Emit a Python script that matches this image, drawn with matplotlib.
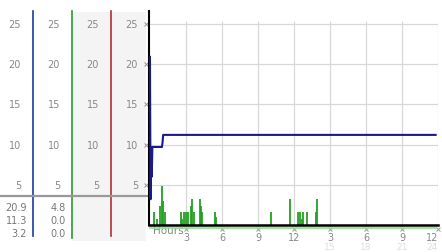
import matplotlib.pyplot as plt
import matplotlib.transforms as mtransforms

# gust line (hours since start, mph)
gust_hours = [0, 0.05, 0.1, 0.15, 0.2, 1.0, 1.05, 1.1, 23.8]
gust_mph = [20.9, 3.2, 9.7, 6.0, 9.7, 9.7, 10.3, 11.2, 11.2]

# wind spikes
wind_hours = [0.33, 0.58, 0.8, 0.97, 1.1, 1.25, 2.58, 2.7, 2.86, 3.03, 3.2, 3.4, 3.53, 3.7,
              4.17, 4.25, 4.36, 5.42, 5.5, 10.1, 11.67, 12.36, 12.5, 12.64, 12.78, 13.1,
              13.83, 13.9]
wind_mph = [1.6, 0.8, 2.4, 4.8, 3.0, 1.6, 1.6, 0.8, 1.6, 1.6, 1.6, 2.4, 3.2, 1.6,
            3.2, 2.4, 1.6, 1.6, 1.0, 1.6, 3.2, 1.6, 1.6, 0.8, 1.6, 1.6,
            1.6, 3.2]

y_ticks = [5, 10, 15, 20, 25]
x_ticks = [3, 6, 9, 12, 15, 18, 21, 24]
x_labels = ['3', '6', '9', '12', '3', '6', '9', '12']
x_labels2 = ['', '', '', '', '15', '18', '21', '24']
gust_stats = ['20.9', '11.3', '3.2']
wind_stats = ['4.8', '0.0', '0.0']

navy = '#1a1a8c'
green = '#22a022'
red = '#b03030'
grey_txt = '#888888'

W, H = 442, 253
fig = plt.figure(figsize=(W / 100, H / 100), dpi=100)
fig.patch.set_facecolor('white')

# background axes in pixel coordinates for the left panel
bg = fig.add_axes([0, 0, 1, 1])
bg.set_xlim(0, W)
bg.set_ylim(H, 0)
bg.axis('off')

# main plot
left, right, top, bottom = 149, 438, 12, 226
ax = fig.add_axes([left / W, (H - bottom) / H, (right - left) / W, (bottom - top) / H])
ax.set_zorder(2)
ax.set_xlim(-0.08, 24)
ax.set_ylim(0, 26.6)

# shaded columns
bg.fill_between([72, 146], 13, 242, color='#f4f4f4', lw=0)
# column lines
bg.plot([33, 33], [12, 237], color='#1a3c9c', lw=1.2)
bg.plot([72, 72], [12, 239], color='#2a9a2a', lw=1.2)
bg.plot([111, 111], [12, 237], color=red, lw=1.2)
bg.plot([0, 149], [197, 197], color='#999999', lw=1.6)

# left panel scale labels, aligned to the plot's y scale
lab_tr = mtransforms.blended_transform_factory(bg.transData, ax.transData)
for xr in [21, 60, 99, 138]:
    for v in y_ticks:
        bg.text(xr, v, str(v), transform=lab_tr, ha='right', va='center',
                fontsize=7, color=grey_txt)

for i, yy in enumerate([208, 221, 234]):
    bg.text(27, yy, gust_stats[i], ha='right', va='center', fontsize=7, color='#777777')
    bg.text(66, yy, wind_stats[i], ha='right', va='center', fontsize=7, color='#777777')

# grid
for v in y_ticks:
    ax.axhline(v, color='#d8d8d8', lw=0.9, zorder=0)
ax.vlines(x_ticks, 0, 25.3, color='#d8d8d8', lw=0.9, zorder=0)

ax.plot(gust_hours, gust_mph, color=navy, lw=1.5, zorder=3)
ax.vlines(wind_hours, 0, wind_mph, color=green, lw=1.3, zorder=2)

for s in ['top', 'right']:
    ax.spines[s].set_visible(False)
ax.spines['left'].set_color('black')
ax.spines['left'].set_linewidth(1.5)
ax.spines['bottom'].set_color('black')
ax.spines['bottom'].set_linewidth(1.8)
ax.plot([0, 23.8], [-0.012, -0.012], color='#8ee08e', lw=1.2,
        transform=ax.get_xaxis_transform(), clip_on=False)

ax.set_yticks(y_ticks)
ax.set_yticklabels([])
ax.set_xticks(x_ticks)
ax.set_xticklabels(x_labels, fontsize=7, color=grey_txt)
ax.get_xticklabels()[-1].set_ha('right')
ax.tick_params(length=0)
ax.tick_params(axis='x', pad=5)
for x, lab in zip(x_ticks, x_labels2):
    ax.text(x, -0.1, lab, transform=ax.get_xaxis_transform(),
            ha='right' if x == x_ticks[-1] else 'center', va='center',
            fontsize=6.5, color='#dddddd')

# small tick glyphs
ytick_tr = mtransforms.blended_transform_factory(bg.transData, ax.transData)
bg.plot([146] * len(y_ticks), y_ticks, 'x', ms=2.5, mew=0.7, color='#999999',
        transform=ytick_tr, zorder=5)
xtick_tr = mtransforms.blended_transform_factory(ax.transData, bg.transData)
bg.plot(x_ticks, [230] * len(x_ticks), 'x', ms=2.5, mew=0.7, color='#999999',
        transform=xtick_tr, clip_on=False, zorder=5)

bg.text(153, 231, 'Hours', ha='left', va='center', fontsize=7.5, color=grey_txt)

# legend
for cx, label, col in [(161, 'Gust 12/30/10', navy), (301, 'Wind 12/30/10', green)]:
    bg.plot(cx, 20, 'o', ms=4, mfc='#aaaaaa', mec='#888888', mew=0.6)
    bg.text(cx + 4.5, 20, label, ha='left', va='center', fontsize=7, color=col)

fig.savefig('out.png', dpi=100, facecolor='white')
